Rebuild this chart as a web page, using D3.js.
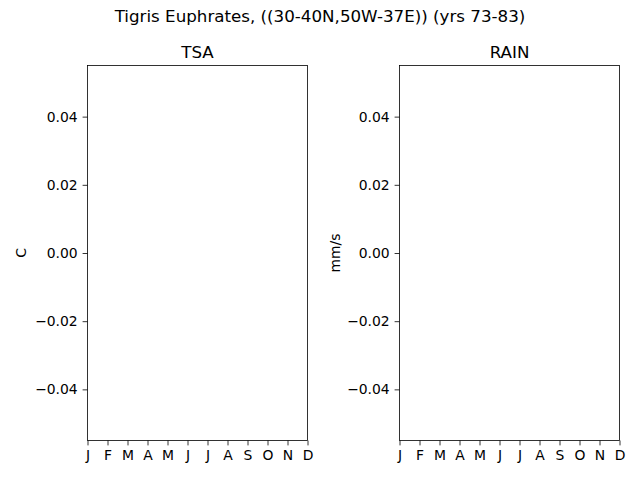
<!DOCTYPE html>
<html><head><meta charset="utf-8">
<script src="https://cdn.jsdelivr.net/npm/d3@7"></script>
<style>body{margin:0;background:#fff}svg{display:block}text{font-family:"DejaVu Sans",sans-serif}</style>
</head><body>
<svg id="c" width="640" height="480"></svg>
<script>
const months = ["J","F","M","A","M","J","J","A","S","O","N","D"];
const yTicks = [-0.04,-0.02,0.00,0.02,0.04];
const tsaValues = [];
const rainValues = [];
const panels = [
  {title:"TSA", unit:"C", values:tsaValues},
  {title:"RAIN", unit:"mm/s", values:rainValues}
];
(function(){
const svg = d3.select("#c");
svg.append("text").attr("x",320).attr("y",22).attr("text-anchor","middle")
  .attr("font-size","16.7px").text("Tigris Euphrates, ((30-40N,50W-37E)) (yrs 73-83)");
const lefts=[87.5,399.5], w=220, axTop=65.5, axBottom=440.5;
const fmt = v => (v<0?"\u22120.0":"0.0")+Math.round(Math.abs(v)*100);
panels.forEach((p,i)=>{
  const x=d3.scaleLinear().domain([0,11]).range([lefts[i],lefts[i]+w]);
  const y=d3.scaleLinear().domain([-0.055,0.055]).range([axBottom,axTop]);
  const g=svg.append("g");
  const xa=g.append("g").attr("transform",`translate(0,${axBottom})`)
    .call(d3.axisBottom(x).tickValues(d3.range(12)).tickFormat(d=>months[d]).tickSize(4.9).tickPadding(4.9));
  const ya=g.append("g").attr("transform",`translate(${lefts[i]},0)`)
    .call(d3.axisLeft(y).tickValues(yTicks).tickFormat(d=>Math.abs(d)<1e-9?"0.00":fmt(d)).tickSize(4.9).tickPadding(4.9));
  [xa,ya].forEach(a=>{a.select(".domain").remove();a.selectAll("text").attr("font-size","13.9px").attr("fill","#000").style("font-family","DejaVu Sans");a.selectAll("line").attr("stroke","#000").attr("stroke-width",0.8);});
  g.append("path").datum(p.values).attr("fill","none").attr("stroke","#1f77b4")
    .attr("d",d3.line().x((d,j)=>x(j)).y(d=>y(d)));
  g.append("rect").attr("x",lefts[i]).attr("y",axTop).attr("width",w).attr("height",axBottom-axTop)
    .attr("fill","none").attr("stroke","#000").attr("stroke-width",0.8);
  g.append("text").attr("x",lefts[i]+w/2).attr("y",axTop-8).attr("text-anchor","middle")
    .attr("font-size","16.7px").text(p.title);
  const lx = i===0?26:340;
  g.append("text").attr("transform",`translate(${lx},${(axTop+axBottom)/2}) rotate(-90)`)
    .attr("text-anchor","middle").attr("font-size","13.9px").text(p.unit);
});
})();
</script>
</body></html>
